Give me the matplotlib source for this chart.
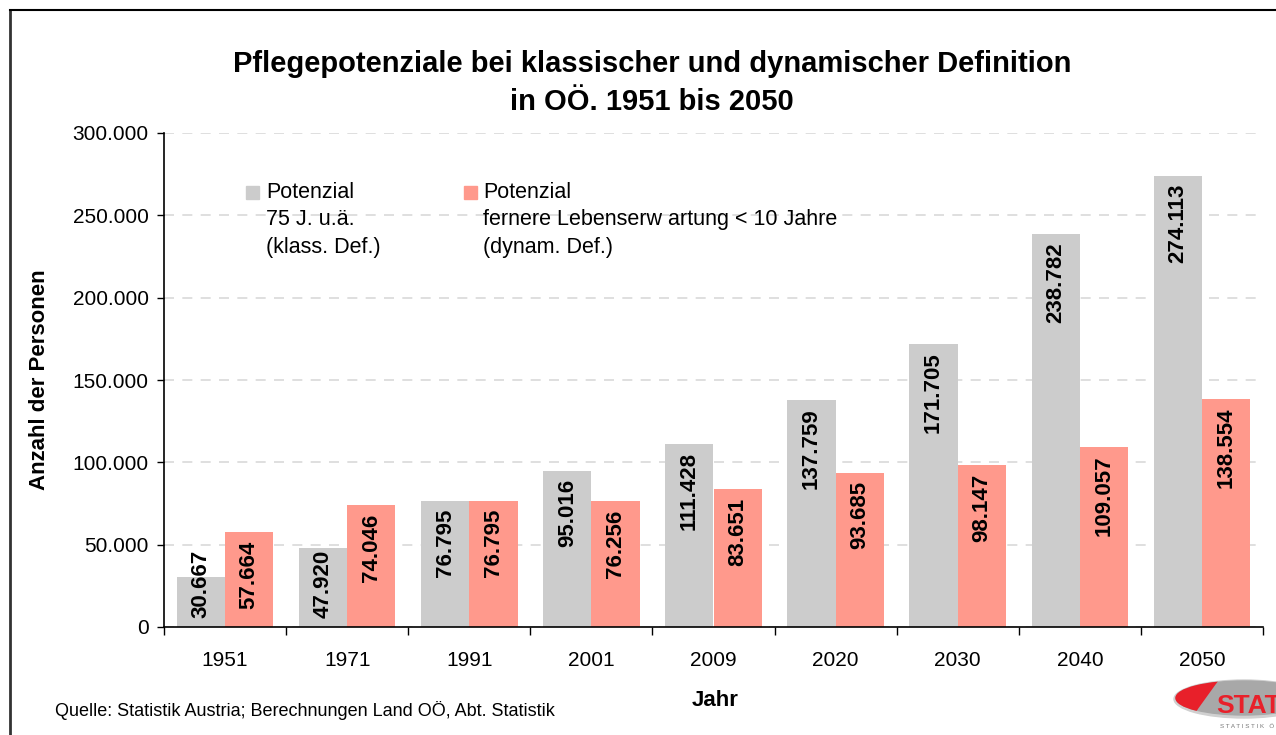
import matplotlib.pyplot as plt
from matplotlib.patches import Rectangle, Ellipse, Polygon
from matplotlib.lines import Line2D
from matplotlib.ticker import FuncFormatter

plt.rcParams['font.family'] = ['Liberation Sans', 'DejaVu Sans']

jahre = ['1951', '1971', '1991', '2001', '2009', '2020', '2030', '2040', '2050']
klassisch = [30667, 47920, 76795, 95016, 111428, 137759, 171705, 238782, 274113]
dynamisch = [57664, 74046, 76795, 76256, 83651, 93685, 98147, 109057, 138554]
legend_labels = ['Potenzial\n75 J. u.ä.\n(klass. Def.)',
                 'Potenzial\nfernere Lebenserw artung < 10 Jahre\n(dynam. Def.)']
farben = ['#cccccc', '#ff998c']

W, H = 1276, 735
fig = plt.figure(figsize=(W / 100, H / 100), dpi=100)
ax = fig.add_axes([164 / W, 1 - 627 / H, (1263 - 164) / W, (627 - 133) / H])

x = list(range(len(jahre)))
w = 0.395
bars1 = ax.bar([i - w / 2 for i in x], klassisch, width=w, color=farben[0], zorder=2)
bars2 = ax.bar([i + w / 2 for i in x], dynamisch, width=w, color=farben[1], zorder=2)


def fmt(v, pos=None):
    return f'{int(v):,}'.replace(',', '.')


ax.set_ylim(0, 300000)
ax.set_xlim(-0.5, len(jahre) - 0.5)

# label at the top inside the bar; short bars get it from the base up
px_per_unit = (627 - 133) / 300000
for bars, vals in [(bars1, klassisch), (bars2, dynamisch)]:
    for b, v in zip(bars, vals):
        xc = b.get_x() + b.get_width() / 2
        if v * px_per_unit > 92:
            ax.annotate(fmt(v), (xc, v), xytext=(0, -6), textcoords='offset points',
                        rotation=90, ha='center', va='top',
                        fontsize=16, fontweight='bold', zorder=3)
        else:
            ax.annotate(fmt(v), (xc, 0), xytext=(0, 6.5), textcoords='offset points',
                        rotation=90, ha='center', va='bottom',
                        fontsize=16, fontweight='bold', zorder=3)

ax.set_yticks(range(0, 300001, 50000))
ax.yaxis.set_major_formatter(FuncFormatter(fmt))
ax.grid(axis='y', color='#d9d9d9', linestyle=(0, (6, 5)), linewidth=1.2, zorder=0)
ax.set_axisbelow(True)

# ticks between the groups, labels in the middle
ax.set_xticks([i - 0.5 for i in range(len(jahre) + 1)])
ax.set_xticklabels([])
ax.set_xticks(x, minor=True)
ax.set_xticklabels(jahre, minor=True)
ax.tick_params(axis='x', which='minor', length=0, pad=17, labelsize=15)
ax.tick_params(axis='x', which='major', length=6, width=1)
ax.tick_params(axis='y', length=5, width=1, labelsize=15, pad=6)

for s in ['top', 'right']:
    ax.spines[s].set_visible(False)
for s in ['left', 'bottom']:
    ax.spines[s].set_linewidth(1.2)

ax.set_ylabel('Anzahl der Personen', fontsize=16, fontweight='bold', labelpad=16)
fig.text(715 / W, 1 - 700 / H, 'Jahr', ha='center', va='center', fontsize=16, fontweight='bold')

fig.text(652 / W, 1 - 83 / H,
         'Pflegepotenziale bei klassischer und dynamischer Definition\nin OÖ. 1951 bis 2050',
         ha='center', va='center', fontsize=21, fontweight='bold', linespacing=1.42)

# legend
for (bx, tx), lab, col in zip([(246, 266), (464, 483)], legend_labels, farben):
    fig.patches.append(Rectangle((bx / W, 1 - 199 / H), 13 / W, 13 / H,
                                 transform=fig.transFigure, color=col))
    fig.text(tx / W, 1 - 182 / H, lab, ha='left', va='top', fontsize=15.5, linespacing=1.4)

fig.text(55 / W, 1 - 710 / H, 'Quelle: Statistik Austria; Berechnungen Land OÖ, Abt. Statistik',
         ha='left', va='center', fontsize=13)

# frame
fig.add_artist(Line2D([10 / W, 10 / W], [0, 1 - 10 / H], color='#333333', lw=2,
                      transform=fig.transFigure))
fig.add_artist(Line2D([10 / W, 1], [1 - 10 / H, 1 - 10 / H], color='black', lw=1.5,
                      transform=fig.transFigure))

# logo (pixel coordinates of the figure, y down)
lax = fig.add_axes([0, 0, 1, 1])
lax.set_xlim(0, W)
lax.set_ylim(H, 0)
lax.axis('off')
lax.add_patch(Ellipse((1244, 699), 140, 38, color='#d0d0d0'))
lax.add_patch(Ellipse((1244, 698), 136, 34, color='#a8a8a8'))
red = Ellipse((1244, 698), 136, 34, color='#e8202a')
lax.add_patch(red)
red.set_clip_path(Polygon([(1170, 670), (1226, 670), (1190, 720), (1170, 720)],
                          transform=lax.transData))
lax.text(1216, 706, 'STAT', color='#e8202a', fontsize=19, fontweight='bold',
         ha='left', va='center')
lax.text(1220, 726, 'S T A T I S T I K   Ö', color='#777777', fontsize=4.5,
         ha='left', va='center')

fig.savefig('out.png', dpi=100)
